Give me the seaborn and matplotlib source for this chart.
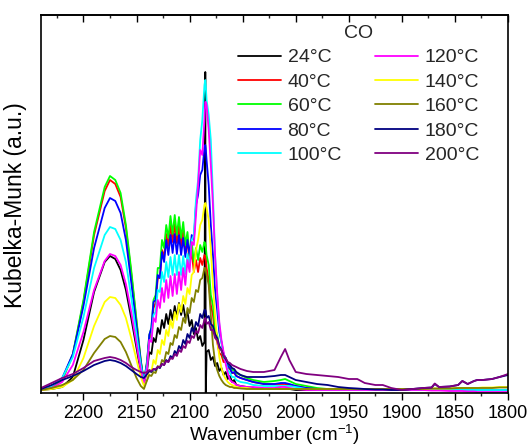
import matplotlib
matplotlib.use("Agg")
import matplotlib.pyplot as plt
import pandas as pd
import seaborn as sns
from matplotlib.ticker import MultipleLocator

# ---------------- data ----------------
wn = [2240, 2230, 2220, 2210, 2200, 2190, 2180, 2175, 2170, 2165, 2160, 2155, 2150, 2146, 2143,
      2140, 2138, 2136, 2134, 2132, 2130, 2128, 2126, 2124, 2122, 2120, 2118, 2116, 2114, 2112,
      2110, 2108, 2106, 2104, 2102, 2100, 2098, 2096, 2094, 2092, 2090, 2088, 2086, 2085.2, 2084.8,
      2084, 2082, 2080, 2078, 2076, 2074, 2072, 2070, 2068, 2066, 2064, 2062, 2060, 2058, 2056,
      2052, 2046, 2040, 2030, 2020, 2014, 2010, 2006, 2000, 1990, 1980, 1970, 1960, 1950, 1942,
      1935, 1925, 1918, 1910, 1900, 1890, 1880, 1872, 1869, 1865, 1855, 1847, 1843, 1838, 1832,
      1829, 1824, 1815, 1808, 1800]

temps = ["24°C", "40°C", "60°C", "80°C", "100°C",
         "120°C", "140°C", "160°C", "180°C", "200°C"]

colors = ["#000000", "#FF0000", "#00FF00", "#0000FF", "#00FFFF",
          "#FF00FF", "#FFFF00", "#808000", "#000080", "#800080"]

km_24 = [0.00, 0.01, 0.03, 0.13, 0.50, 0.98, 1.28, 1.34, 1.31, 1.20, 1.00, 0.72, 0.42, 0.18, 0.06,
         0.20, 0.38, 0.36, 0.52, 0.48, 0.62, 0.56, 0.70, 0.62, 0.76, 0.66, 0.80, 0.70, 0.84, 0.73,
         0.87, 0.75, 0.85, 0.72, 0.78, 0.64, 0.70, 0.56, 0.62, 0.50, 0.54, 0.44, 0.48, 3.18, -0.08,
         0.38, 0.40, 0.30, 0.33, 0.24, 0.27, 0.19, 0.22, 0.15, 0.18, 0.11, 0.14, 0.08, 0.10, 0.05,
         0.04, 0.03, 0.02, 0.01, 0.01, 0.01, 0.01, 0.01, 0.00, 0.00, 0.00, 0.00, 0.00, 0.00, 0.00,
         0.00, 0.00, 0.00, 0.00, 0.00, 0.00, 0.00, 0.00, 0.00, 0.00, 0.00, 0.00, 0.00, 0.00, 0.00,
         0.00, 0.00, 0.00, 0.00, 0.00]

km_40 = [0.00, 0.03, 0.10, 0.35, 0.88, 1.55, 1.99, 2.10, 2.06, 1.93, 1.62, 1.17, 0.68, 0.29, 0.08,
         0.27, 0.50, 0.57, 0.82, 0.87, 1.12, 1.12, 1.40, 1.33, 1.56, 1.44, 1.65, 1.48, 1.66, 1.47,
         1.64, 1.44, 1.59, 1.37, 1.49, 1.27, 1.38, 1.18, 1.30, 1.18, 1.32, 1.25, 1.35, 1.34, 1.32,
         1.22, 1.10, 0.85, 0.75, 0.55, 0.48, 0.37, 0.35, 0.28, 0.28, 0.22, 0.21, 0.17, 0.17, 0.14,
         0.12, 0.10, 0.08, 0.06, 0.06, 0.06, 0.06, 0.05, 0.04, 0.02, 0.01, 0.01, 0.00, 0.00, 0.00,
         0.00, 0.00, 0.00, 0.00, 0.00, 0.00, 0.00, 0.00, 0.00, 0.00, 0.00, 0.00, 0.00, 0.00, 0.00,
         0.00, 0.00, 0.00, 0.00, 0.00]

km_60 = [0.00, 0.03, 0.10, 0.36, 0.90, 1.58, 2.03, 2.14, 2.10, 1.97, 1.65, 1.20, 0.70, 0.30, 0.08,
         0.30, 0.55, 0.62, 0.90, 0.95, 1.22, 1.22, 1.50, 1.42, 1.65, 1.52, 1.74, 1.56, 1.75, 1.55,
         1.73, 1.52, 1.68, 1.45, 1.58, 1.35, 1.48, 1.28, 1.42, 1.30, 1.45, 1.38, 1.48, 1.46, 1.44,
         1.35, 1.25, 0.95, 0.85, 0.62, 0.55, 0.42, 0.40, 0.32, 0.32, 0.25, 0.24, 0.20, 0.20, 0.17,
         0.15, 0.12, 0.10, 0.08, 0.09, 0.10, 0.11, 0.09, 0.06, 0.04, 0.02, 0.01, 0.01, 0.00, 0.00,
         0.00, 0.00, 0.00, 0.00, 0.00, 0.00, 0.00, 0.00, 0.00, 0.00, 0.00, 0.00, 0.00, 0.00, 0.00,
         0.00, 0.00, 0.00, 0.00, 0.00]

km_80 = [0.01, 0.04, 0.12, 0.36, 0.84, 1.42, 1.82, 1.92, 1.89, 1.77, 1.50, 1.08, 0.64, 0.28, 0.08,
         0.28, 0.55, 0.62, 0.88, 0.90, 1.15, 1.12, 1.38, 1.28, 1.50, 1.35, 1.55, 1.37, 1.56, 1.36,
         1.55, 1.35, 1.52, 1.33, 1.50, 1.35, 1.55, 1.50, 1.85, 1.95, 2.15, 2.20, 2.42, 2.45, 2.42,
         2.30, 2.05, 1.65, 1.35, 1.00, 0.80, 0.58, 0.48, 0.36, 0.32, 0.24, 0.22, 0.17, 0.18, 0.14,
         0.12, 0.10, 0.08, 0.06, 0.06, 0.07, 0.07, 0.06, 0.04, 0.02, 0.01, 0.00, 0.00, 0.00, 0.00,
         0.00, 0.00, 0.00, 0.00, 0.00, 0.00, 0.00, 0.00, 0.00, 0.00, 0.00, 0.00, 0.00, 0.00, 0.00,
         0.00, 0.00, 0.00, 0.00, 0.00]

km_100 = [0.01, 0.04, 0.12, 0.33, 0.73, 1.22, 1.55, 1.63, 1.61, 1.50, 1.28, 0.93, 0.55, 0.25, 0.08,
          0.25, 0.48, 0.52, 0.75, 0.78, 1.00, 0.98, 1.18, 1.08, 1.28, 1.13, 1.33, 1.15, 1.35, 1.15,
          1.35, 1.15, 1.34, 1.16, 1.36, 1.25, 1.50, 1.55, 1.90, 2.10, 2.50, 2.70, 3.05, 3.10, 3.05,
          2.90, 2.75, 2.50, 1.95, 1.35, 0.95, 0.65, 0.48, 0.34, 0.28, 0.20, 0.17, 0.13, 0.13, 0.10,
          0.08, 0.07, 0.05, 0.04, 0.04, 0.04, 0.04, 0.04, 0.03, 0.01, 0.00, 0.00, 0.00, 0.00, 0.00,
          0.00, 0.00, 0.00, 0.00, 0.00, 0.00, 0.00, 0.00, 0.00, 0.00, 0.00, 0.00, 0.00, 0.00, 0.00,
          0.00, 0.00, 0.00, 0.00, 0.00]

km_120 = [0.00, 0.02, 0.08, 0.25, 0.58, 1.00, 1.29, 1.36, 1.34, 1.25, 1.06, 0.78, 0.46, 0.20, 0.06,
          0.22, 0.50, 0.48, 0.72, 0.68, 0.90, 0.82, 1.02, 0.88, 1.10, 0.92, 1.14, 0.94, 1.16, 0.96,
          1.18, 1.00, 1.22, 1.05, 1.30, 1.18, 1.48, 1.45, 1.75, 2.05, 2.40, 2.35, 2.70, 2.88, 2.88,
          2.85, 2.60, 2.25, 1.85, 1.35, 0.97, 0.68, 0.50, 0.38, 0.26, 0.17, 0.10, 0.08, 0.07, 0.05,
          0.04, 0.03, 0.03, 0.02, 0.02, 0.03, 0.03, 0.02, 0.01, 0.00, 0.00, 0.00, 0.00, 0.00, 0.00,
          0.00, 0.00, 0.00, 0.00, 0.00, 0.00, 0.00, -0.005, -0.005, -0.005, -0.01, -0.01, -0.01, -0.015, -0.015,
          -0.02, -0.02, -0.02, -0.02, -0.02]

km_140 = [0.00, 0.01, 0.03, 0.10, 0.32, 0.64, 0.88, 0.93, 0.92, 0.85, 0.72, 0.52, 0.30, 0.13, 0.04,
          0.10, 0.20, 0.18, 0.30, 0.26, 0.40, 0.36, 0.50, 0.45, 0.60, 0.54, 0.70, 0.62, 0.78, 0.70,
          0.86, 0.78, 0.94, 0.86, 1.02, 0.96, 1.15, 1.18, 1.40, 1.50, 1.65, 1.70, 1.85, 1.87, 1.86,
          1.82, 1.70, 1.40, 1.05, 0.75, 0.50, 0.33, 0.22, 0.15, 0.11, 0.08, 0.06, 0.05, 0.04, 0.03,
          0.02, 0.02, 0.01, 0.01, 0.01, 0.01, 0.01, 0.01, 0.01, 0.01, 0.01, 0.01, 0.01, 0.01, 0.01,
          0.01, 0.01, 0.01, 0.01, 0.01, 0.01, 0.01, 0.015, 0.015, 0.015, 0.015, 0.02, 0.02, 0.02, 0.02,
          0.02, 0.025, 0.025, 0.03, 0.03]

km_160 = [0.00, 0.02, 0.05, 0.10, 0.20, 0.37, 0.51, 0.54, 0.53, 0.48, 0.38, 0.25, 0.12, 0.04, 0.01,
          0.10, 0.15, 0.14, 0.18, 0.17, 0.24, 0.22, 0.30, 0.28, 0.38, 0.36, 0.47, 0.45, 0.55, 0.52,
          0.63, 0.60, 0.72, 0.67, 0.82, 0.77, 0.92, 0.88, 1.00, 0.98, 1.10, 1.12, 1.22, 1.22, 1.20,
          1.15, 1.05, 0.75, 0.45, 0.28, 0.20, 0.14, 0.10, 0.07, 0.05, 0.04, 0.03, 0.03, 0.02, 0.02,
          0.015, 0.01, 0.01, 0.01, 0.01, 0.01, 0.01, 0.01, 0.01, 0.01, 0.01, 0.01, 0.01, 0.01, 0.01,
          0.01, 0.01, 0.01, 0.01, 0.01, 0.01, 0.01, 0.015, 0.015, 0.015, 0.015, 0.02, 0.02, 0.02, 0.02,
          0.02, 0.02, 0.02, 0.025, 0.025]

km_180 = [0.01, 0.05, 0.10, 0.14, 0.19, 0.25, 0.29, 0.30, 0.29, 0.27, 0.24, 0.20, 0.16, 0.13, 0.12,
          0.16, 0.19, 0.18, 0.21, 0.20, 0.23, 0.22, 0.26, 0.25, 0.30, 0.28, 0.34, 0.32, 0.39, 0.36,
          0.44, 0.41, 0.50, 0.46, 0.56, 0.52, 0.62, 0.58, 0.68, 0.64, 0.76, 0.72, 0.80, 0.80, 0.79,
          0.72, 0.74, 0.66, 0.64, 0.56, 0.52, 0.44, 0.40, 0.34, 0.31, 0.27, 0.25, 0.22, 0.21, 0.18,
          0.15, 0.13, 0.13, 0.13, 0.14, 0.15, 0.15, 0.13, 0.10, 0.08, 0.06, 0.05, 0.03, 0.02, 0.015,
          0.01, 0.005, 0.005, 0.00, 0.00, 0.01, 0.02, 0.025, 0.06, 0.03, 0.035, 0.05, 0.09, 0.06, 0.09,
          0.10, 0.10, 0.11, 0.13, 0.15]

km_200 = [0.02, 0.07, 0.12, 0.16, 0.22, 0.29, 0.32, 0.33, 0.32, 0.30, 0.27, 0.23, 0.20, 0.18, 0.17,
          0.18, 0.20, 0.19, 0.21, 0.21, 0.23, 0.23, 0.26, 0.25, 0.29, 0.28, 0.32, 0.31, 0.36, 0.34,
          0.40, 0.38, 0.44, 0.42, 0.49, 0.47, 0.54, 0.52, 0.59, 0.57, 0.65, 0.62, 0.70, 0.72, 0.71,
          0.66, 0.68, 0.60, 0.60, 0.52, 0.50, 0.42, 0.40, 0.34, 0.32, 0.28, 0.27, 0.25, 0.24, 0.23,
          0.21, 0.19, 0.18, 0.18, 0.20, 0.33, 0.41, 0.30, 0.18, 0.16, 0.15, 0.14, 0.13, 0.11, 0.11,
          0.07, 0.05, 0.05, 0.02, 0.00, 0.01, 0.02, 0.025, 0.065, 0.03, 0.035, 0.05, 0.09, 0.06, 0.09,
          0.10, 0.10, 0.11, 0.13, 0.16]

series = [km_24, km_40, km_60, km_80, km_100, km_120, km_140, km_160, km_180, km_200]

frames = []
for label, vals in zip(temps, series):
    assert len(vals) == len(wn), (label, len(vals))
    frames.append(pd.DataFrame({"wn": wn, "km": vals, "T": label}))
df = pd.concat(frames, ignore_index=True)

# ---------------- styling ----------------
sns.set_style("ticks")
plt.rcParams["font.family"] = ["Liberation Sans", "DejaVu Sans"]
plt.rcParams["mathtext.fontset"] = "custom"
plt.rcParams["mathtext.rm"] = "Liberation Sans"
plt.rcParams["mathtext.it"] = "Liberation Sans:italic"
plt.rcParams["mathtext.bf"] = "Liberation Sans:bold"

fig = plt.figure(figsize=(5.31, 4.46), dpi=100)
ax = fig.add_axes([41 / 531, 1 - 392.7 / 446, (508 - 41) / 531, (392.7 - 15) / 446])

sns.lineplot(data=df, x="wn", y="km", hue="T", hue_order=temps, palette=colors,
             estimator=None, sort=False, linewidth=1.3, ax=ax)

ax.set_xlim(2240, 1800)
ax.set_ylim(-0.027, 3.75)
ax.set_yticks([])
ax.xaxis.set_major_locator(MultipleLocator(50))
ax.xaxis.set_minor_locator(MultipleLocator(25))
ax.tick_params(axis="x", which="major", direction="out", length=5, width=1.0,
               labelsize=13, pad=4, colors="black", top=False)
ax.tick_params(axis="x", which="minor", direction="out", length=2.5, width=1.0, top=False)
for s in ax.spines.values():
    s.set_color("black")
    s.set_linewidth(1.2)

sec = ax.secondary_xaxis("top")
sec.xaxis.set_major_locator(MultipleLocator(50))
sec.xaxis.set_minor_locator(MultipleLocator(25))
sec.tick_params(axis="x", which="major", direction="in", length=5, width=1.0,
                labeltop=False, labelbottom=False, colors="black")
sec.tick_params(axis="x", which="minor", direction="in", length=2.5, width=1.0)
sec.spines["top"].set_linewidth(1.2)
sec.spines["top"].set_color("black")

ax.set_xlabel("Wavenumber (cm$^{\\mathregular{-1}}$)", fontsize=13.5, labelpad=0.5, color="black")
ax.set_ylabel("Kubelka-Munk (a.u.)", fontsize=16.5, color="black")
ax.yaxis.set_label_coords(-0.03, 0.497)

handles, labels = ax.get_legend_handles_labels()
ax.legend(handles, labels, ncol=2, title="CO", frameon=False, loc="upper left",
          bbox_to_anchor=(238 / 531, 1 - 25 / 446), bbox_transform=fig.transFigure,
          fontsize=14, title_fontsize=14, handlelength=2.2, handletextpad=0.35,
          columnspacing=1.7, labelspacing=0.35, borderpad=0, borderaxespad=0)

fig.savefig("out.png", dpi=100)
